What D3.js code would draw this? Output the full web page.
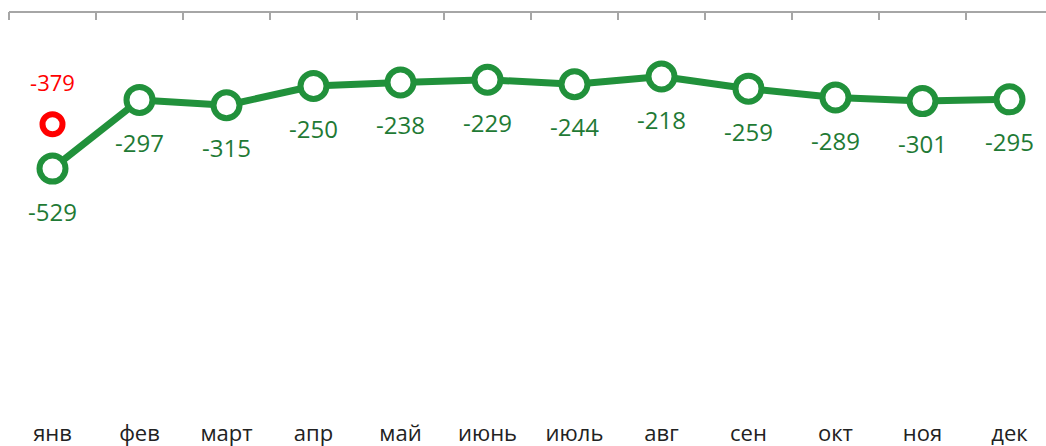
<!DOCTYPE html>
<html>
<head>
<meta charset="utf-8">
<script src="https://cdn.jsdelivr.net/npm/d3@7"></script>
<style>
    body { margin: 0; background: #fff; }
    svg { display: block; font-family: "Open Sans", "Noto Sans", sans-serif; }
</style>
</head>
<body>
<div id="chart"></div>
<script>
var months = ["янв", "фев", "март", "апр", "май", "июнь", "июль", "авг", "сен", "окт", "ноя", "дек"];
var values = [-529, -297, -315, -250, -238, -229, -244, -218, -259, -289, -301, -295];
var extraMonth = ["янв"];
var extraValue = [-379];

var width = 1046, height = 446;

// band scale runs a little past the right edge, like the original
var x = d3.scaleBand().domain(months).range([9, 9 + 87 * 12]);
var y = d3.scaleLinear().domain([-1000, 0]).range([308, 12]);

var svg = d3.select("#chart").append("svg")
    .attr("width", width)
    .attr("height", height);

// axis on top at zero, ticks pointing down
var axis = svg.append("g")
    .attr("transform", "translate(0," + y(0) + ")");
axis.append("line")
    .attr("x1", x.range()[0]).attr("x2", x.range()[1])
    .attr("stroke", "#a6a6a6").attr("stroke-width", 2);
axis.selectAll("line.tick")
    .data(months)
    .enter().append("line")
    .attr("class", "tick")
    .attr("x1", function (d) { return x(d); })
    .attr("x2", function (d) { return x(d); })
    .attr("y1", 0).attr("y2", 8)
    .attr("stroke", "#a6a6a6").attr("stroke-width", 2);

// month labels at the bottom
svg.selectAll("text.month")
    .data(months)
    .enter().append("text")
    .attr("class", "month")
    .attr("x", function (d) { return x(d) + x.bandwidth() / 2; })
    .attr("y", 441)
    .attr("text-anchor", "middle")
    .attr("font-size", 22)
    .attr("fill", "#222")
    .text(function (d) { return d; });

var cx = function (d, i) { return x(months[i]) + x.bandwidth() / 2; };

var line = d3.line()
    .x(cx)
    .y(function (d) { return y(d); });

svg.append("path")
    .datum(values)
    .attr("d", line)
    .attr("fill", "none")
    .attr("stroke", "#21913b")
    .attr("stroke-width", 7)
    .attr("stroke-linejoin", "round");

svg.selectAll("circle.pt")
    .data(values)
    .enter().append("circle")
    .attr("class", "pt")
    .attr("cx", cx)
    .attr("cy", function (d) { return y(d); })
    .attr("r", 13)
    .attr("fill", "#fff")
    .attr("stroke", "#21913b")
    .attr("stroke-width", 6);

svg.selectAll("text.val")
    .data(values)
    .enter().append("text")
    .attr("class", "val")
    .attr("x", cx)
    .attr("y", function (d) { return y(d) + 52; })
    .attr("text-anchor", "middle")
    .attr("font-size", 24)
    .attr("fill", "#1f7a35")
    .text(function (d) { return d; });

// the separate red point for January
svg.selectAll("circle.extra")
    .data(extraValue)
    .enter().append("circle")
    .attr("class", "extra")
    .attr("cx", function (d, i) { return x(extraMonth[i]) + x.bandwidth() / 2; })
    .attr("cy", function (d) { return y(d); })
    .attr("r", 10)
    .attr("fill", "#fff")
    .attr("stroke", "#ff0000")
    .attr("stroke-width", 6);

svg.selectAll("text.extra")
    .data(extraValue)
    .enter().append("text")
    .attr("class", "extra")
    .attr("x", function (d, i) { return x(extraMonth[i]) + x.bandwidth() / 2; })
    .attr("y", function (d) { return y(d) - 33; })
    .attr("text-anchor", "middle")
    .attr("font-size", 22)
    .attr("fill", "#ff0000")
    .text(function (d) { return d; });
</script>
</body>
</html>
